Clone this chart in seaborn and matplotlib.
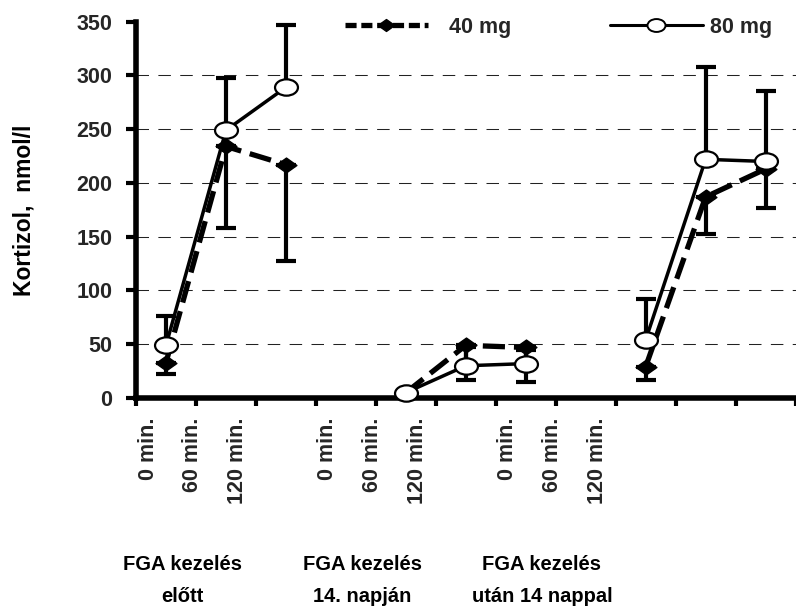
import numpy as np
import pandas as pd
import matplotlib
matplotlib.use("Agg")
import matplotlib.pyplot as plt
from matplotlib.path import Path
from matplotlib.lines import Line2D
from matplotlib.ticker import FixedLocator
from matplotlib.transforms import blended_transform_factory
import seaborn as sns

# ---------------- data ----------------
times = ["0 min.", "60 min.", "120 min."]
groups = ["FGA kezelés\nelőtt", "FGA kezelés\n14. napján", "FGA kezelés\nután 14 nappal"]
mg40 = [33, 234, 217, 5, 49, 47, 29, 187, 213]
mg40_minus = [11, 76, 90, 0, 32, 32, 12, 34, 36]
mg80 = [49, 249, 289, 5, 30, 32, 54, 222, 220]
mg80_plus = [27, 49, 58, 0, 17, 13, 38, 86, 66]
series_labels = ["40 mg", "80 mg"]
y_label = "Kortizol,  nmol/l"
y_ticks = [0, 50, 100, 150, 200, 250, 300, 350]

# ---------------- table ----------------
rows = []
k = 0
for g, gname in enumerate(groups):
    for t, tname in enumerate(times):
        rows.append({"group": gname, "time": tname, "slot": 4 * g + t,
                     "mg40": mg40[k], "mg80": mg80[k]})
        k += 1
df = pd.DataFrame(rows)

sns.set_theme(style="white")
plt.rcParams["font.family"] = ["Liberation Sans", "DejaVu Sans"]
plt.rcParams["font.weight"] = "bold"

fig = plt.figure(figsize=(7.96, 6.06), dpi=100)
ax = fig.add_axes([0.1709, 0.3432, 0.8285, 0.621])

# custom (Excel-like, stretched) markers
circ = Path.unit_circle()
ellipse = Path(circ.vertices * np.array([1.4, 1.0]), circ.codes)
diamond = Path([(0, 1), (1.4, 0), (0, -1), (-1.4, 0), (0, 1)],
               [Path.MOVETO, Path.LINETO, Path.LINETO, Path.LINETO, Path.CLOSEPOLY])

# grid lines
ax.hlines(y_ticks[1:-1], -0.5, 10.5, colors="#222222", linewidth=0.75,
          linestyles=[(0, (12, 9))], zorder=1)

# error bars (one-sided)
zeros = np.zeros(len(mg40))
ax.errorbar(df["slot"], df["mg40"], yerr=[mg40_minus, zeros], fmt="none",
            ecolor="black", elinewidth=3, capsize=7, capthick=3, zorder=2.5, clip_on=False)
ax.errorbar(df["slot"], df["mg80"], yerr=[zeros, mg80_plus], fmt="none",
            ecolor="black", elinewidth=3, capsize=7, capthick=3, zorder=2.6, clip_on=False)

# lines
sns.lineplot(data=df, x="slot", y="mg40", units="group", estimator=None, ax=ax,
             color="black", linewidth=3.8, linestyle=(0, (4.2, 1.7)),
             marker=diamond, markersize=15, markerfacecolor="black",
             markeredgecolor="black", markeredgewidth=1, clip_on=False,
             zorder=3, legend=False)
sns.lineplot(data=df, x="slot", y="mg80", units="group", estimator=None, ax=ax,
             color="black", linewidth=2.5, linestyle="-",
             marker=ellipse, markersize=16.5, markerfacecolor="white",
             markeredgecolor="black", markeredgewidth=1.6, clip_on=False,
             zorder=4, legend=False)

# axes
ax.set_xlim(-0.5, 10.5)
ax.set_ylim(0, 350)
ax.set_yticks(y_ticks)
label_pos = [3 * g + 0.75 * t - 0.3 for g in range(3) for t in range(3)]
ax.xaxis.set_major_locator(FixedLocator(label_pos))
ax.set_xticklabels(times * 3, rotation=90, fontsize=15.5, fontweight="bold")
ax.xaxis.set_minor_locator(FixedLocator(np.arange(-0.5, 11, 1.0)))
ax.tick_params(axis="x", which="major", bottom=True, length=0, pad=14)
ax.tick_params(axis="x", which="minor", bottom=True, length=6, width=3,
               direction="out", color="black")
ax.tick_params(axis="y", which="major", left=True, length=7, width=3,
               direction="out", color="black", pad=10, labelsize=15.5)
for lab in ax.get_yticklabels():
    lab.set_fontweight("bold")
ax.set_xlabel("")
ax.set_ylabel(y_label, fontsize=16.5, fontweight="bold", color="black")
ax.yaxis.set_label_coords(-0.153, 0.5)

for s in ["top", "right"]:
    ax.spines[s].set_visible(False)
for s in ["left", "bottom"]:
    ax.spines[s].set_linewidth(4)
    ax.spines[s].set_color("black")
    ax.spines[s].set_zorder(2.7)

# group labels
trans = blended_transform_factory(ax.transData, ax.transAxes)
for g, name in enumerate(groups):
    ax.text(3 * g + 0.27, -0.484, name, transform=trans, ha="center", va="center",
            fontsize=14.5, fontweight="bold", linespacing=1.85, color="black")

# legends
h40 = Line2D([], [], color="black", linewidth=3.8, linestyle=(0, (2.1, 0.9)),
             marker=diamond, markersize=12, markerfacecolor="black",
             markeredgecolor="black")
h80 = Line2D([], [], color="black", linewidth=2.2, linestyle="-",
             marker=ellipse, markersize=13, markerfacecolor="white",
             markeredgecolor="black", markeredgewidth=1.4)
fig.legend([h40], [series_labels[0]], loc="center left",
           bbox_to_anchor=(345 / 796, 1 - 27 / 606), frameon=False, borderpad=0,
           borderaxespad=0, handlelength=3.85, handletextpad=0.96,
           prop={"size": 15.5, "weight": "bold"})
fig.legend([h80], [series_labels[1]], loc="center left",
           bbox_to_anchor=(610 / 796, 1 - 27 / 606), frameon=False, borderpad=0,
           borderaxespad=0, handlelength=4.3, handletextpad=0.34,
           prop={"size": 15.5, "weight": "bold"})

fig.savefig("out.png", dpi=100)
